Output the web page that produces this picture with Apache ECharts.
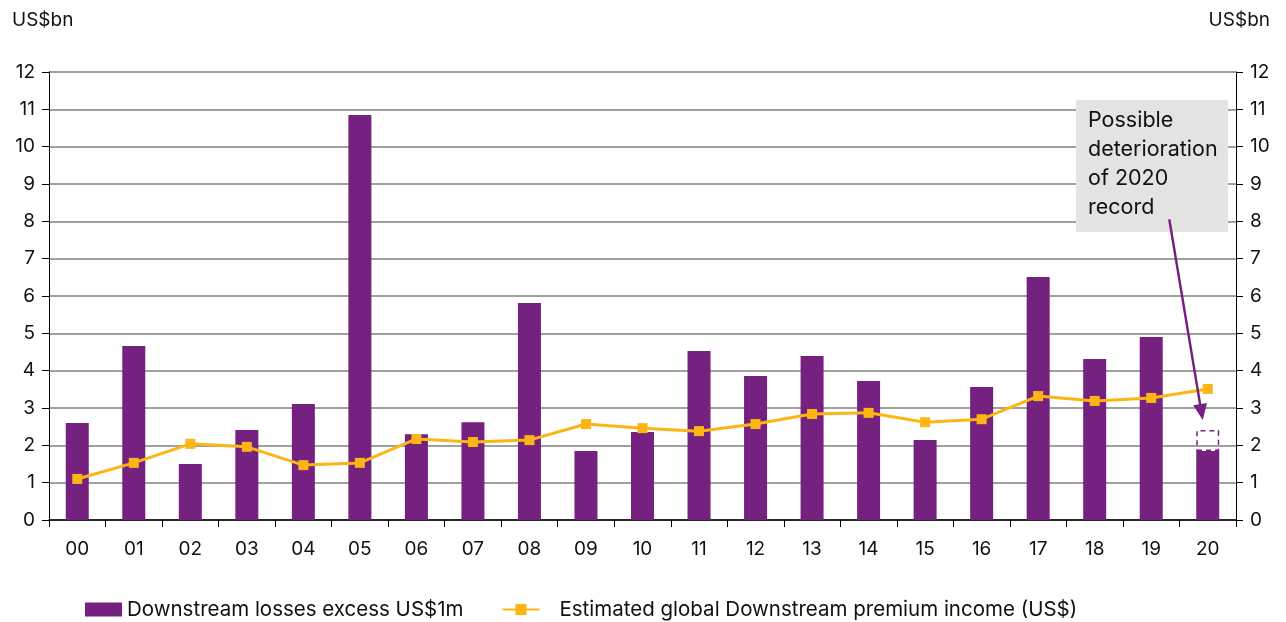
<!DOCTYPE html>
<html>
<head>
<meta charset="utf-8">
<script src="https://cdn.jsdelivr.net/npm/echarts@6/dist/echarts.min.js"></script>
<style>html,body{margin:0;padding:0;background:#fff;}</style>
</head>
<body>
<div id="main" style="width:1286px;height:622px;"></div>
<script>
// data
const years = ['00', '01', '02', '03', '04', '05', '06', '07', '08', '09', '10',
  '11', '12', '13', '14', '15', '16', '17', '18', '19', '20'];
const losses = [2.6, 4.66, 1.5, 2.41, 3.11, 10.85, 2.3, 2.62, 5.81, 1.85, 2.36,
  4.53, 3.86, 4.39, 3.72, 2.14, 3.56, 6.51, 4.31, 4.9, 1.85];
// possible extra deterioration on top of the 2020 bar (dashed box)
const possibleExtra = [null, null, null, null, null, null, null, null, null, null, null,
  null, null, null, null, null, null, null, null, null, 0.56];
const premium = [1.1, 1.53, 2.04, 1.96, 1.47, 1.53, 2.17, 2.09, 2.14, 2.57, 2.46,
  2.38, 2.57, 2.84, 2.87, 2.62, 2.7, 3.32, 3.19, 3.27, 3.51];

const PURPLE = '#74217f';
const GOLD = '#fdb515';
const FONT = 'Inter';

const chart = echarts.init(document.getElementById('main'));

const yAxisBase = {
  type: 'value',
  min: 0,
  max: 12,
  interval: 1,
  axisLine: {show: true, lineStyle: {color: '#000', width: 1}},
  axisTick: {show: true, length: 7, lineStyle: {color: '#000'}},
  axisLabel: {color: '#111', fontSize: 19, fontFamily: FONT, margin: 14},
};

const option = {
  animation: false,
  textStyle: {fontFamily: FONT},
  title: [
    {text: 'US$bn', left: 7, top: 6, textStyle: {fontSize: 19, fontWeight: 'normal', color: '#111', fontFamily: FONT}},
    {text: 'US$bn', right: 11, top: 6, textStyle: {fontSize: 19, fontWeight: 'normal', color: '#111', fontFamily: FONT}},
  ],
  grid: {left: 49, right: 50, top: 72, bottom: 102},
  legend: {
    top: 594,
    left: 80,
    itemWidth: 37,
    itemHeight: 14,
    itemGap: 38,
    textStyle: {fontSize: 20.5, color: '#111', fontFamily: FONT},
    data: [
      {name: 'Downstream losses excess US$1m', icon: 'rect'},
      {name: 'Estimated global Downstream premium income (US$)',
        textStyle: {padding: [0, 0, 0, 15]}},
    ],
  },
  xAxis: {
    type: 'category',
    data: years,
    boundaryGap: true,
    axisLine: {lineStyle: {color: '#000', width: 1.5}},
    axisTick: {show: true, length: 7, lineStyle: {color: '#000'}},
    axisLabel: {color: '#111', fontSize: 19, fontFamily: FONT, margin: 20},
  },
  yAxis: [
    Object.assign({}, yAxisBase, {
      position: 'left',
      splitLine: {show: true, lineStyle: {color: '#a0a0a0', width: 2}},
    }),
    Object.assign({}, yAxisBase, {
      position: 'right',
      splitLine: {show: false},
    }),
  ],
  series: [
    {
      name: 'Downstream losses excess US$1m',
      type: 'bar',
      stack: 'loss',
      data: losses,
      barWidth: 23,
      itemStyle: {color: PURPLE},
      z: 2,
    },
    {
      name: 'possible',
      type: 'bar',
      stack: 'loss',
      data: possibleExtra,
      barWidth: 23,
      itemStyle: {color: 'rgba(255,255,255,0)', borderColor: PURPLE, borderWidth: 1.5, borderType: [5, 4]},
      z: 2,
    },
    {
      name: 'Estimated global Downstream premium income (US$)',
      type: 'line',
      data: premium,
      symbol: 'rect',
      symbolSize: 10,
      lineStyle: {color: GOLD, width: 3},
      itemStyle: {color: GOLD},
      z: 4,
    },
  ],
};
chart.setOption(option);

// annotation box + arrow pointing at the 2020 dashed box
const p19 = chart.convertToPixel({xAxisIndex: 0, yAxisIndex: 0}, [19, 8]);
const p20 = chart.convertToPixel({xAxisIndex: 0, yAxisIndex: 0}, [20, 2.6]);
const start = [p19[0] + (p20[0] - p19[0]) * 0.32, p19[1] - 2];
const tip = [p20[0] - 5, p20[1] - 3];
const dx = tip[0] - start[0], dy = tip[1] - start[1];
const len = Math.sqrt(dx * dx + dy * dy);
const ux = dx / len, uy = dy / len;
const headLen = 16, headW = 7;
const base = [tip[0] - ux * headLen, tip[1] - uy * headLen];

chart.setOption({
  graphic: [
    {
      type: 'rect',
      shape: {x: 1076, y: 100, width: 152, height: 132},
      style: {fill: '#e3e3e2'},
      z: 10,
    },
    {
      type: 'text',
      x: 1088,
      y: 106,
      style: {
        text: 'Possible\ndeterioration\nof 2020\nrecord',
        fontSize: 21.5,
        lineHeight: 29,
        fontFamily: FONT,
        fill: '#111',
      },
      z: 11,
    },
    {
      type: 'line',
      shape: {x1: start[0], y1: start[1], x2: base[0] + ux * 2, y2: base[1] + uy * 2},
      style: {stroke: PURPLE, lineWidth: 2.5},
      z: 11,
    },
    {
      type: 'polygon',
      shape: {points: [
        tip,
        [base[0] - uy * headW, base[1] + ux * headW],
        [base[0] + uy * headW, base[1] - ux * headW],
      ]},
      style: {fill: PURPLE},
      z: 11,
    },
  ],
});
</script>
</body>
</html>
